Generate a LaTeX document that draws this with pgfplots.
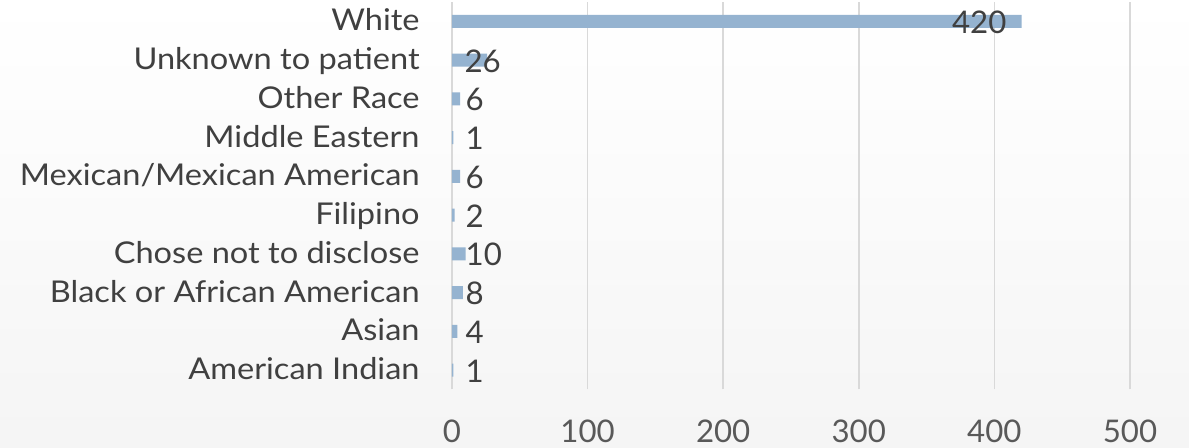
\documentclass[border=0pt]{standalone}
\usepackage{fontspec}
\setmainfont{Lato}
\newfontfamily\catfont{Lato}[FakeStretch=1.085]
\usepackage{pgfplots}
\pgfplotsset{compat=1.18}
\definecolor{barblue}{HTML}{95B3D0}
\definecolor{gridgray}{HTML}{D9D9D9}
\definecolor{labtxt}{HTML}{404040}
\definecolor{ticktxt}{HTML}{595959}
\begin{document}
\begin{tikzpicture}
\shade[top color=white, bottom color=black!4] (-226pt,-28.8pt) rectangle (368.5pt,194.7pt);
\begin{axis}[
  at={(0,0)}, anchor=south west,
  scale only axis, width=339pt, height=193.7pt,
  xmin=0, xmax=500, ymin=-0.5, ymax=9.5,
  xtick={0,100,...,500},
  ytick={0,...,9},
  yticklabels={American Indian, Asian, Black or African American, Chose not to disclose, Filipino, Mexican/Mexican American, Middle Eastern, Other Race, Unknown to patient, White},
  axis line style={draw=none},
  major tick length=0pt,
  xmajorgrids, major grid style={gridgray, line width=0.75pt},
  font=\fontsize{15.6}{18}\selectfont,
  /pgf/number format/assume math mode=true,
  xticklabel style={anchor=base, inner sep=0pt, yshift=-26.3pt, text=ticktxt},
  yticklabel style={anchor=base east, inner sep=0pt, xshift=-16pt, yshift=-4.75pt, text=labtxt, font=\catfont\fontsize{15}{18}\selectfont},
  clip=false,
]
\addplot[xbar, bar width=6.5pt, fill=barblue, draw=none] coordinates {
  (1,0) (4,1) (8,2) (10,3) (2,4) (6,5) (1,6) (6,7) (26,8) (420,9)
};
\addplot[only marks, mark=none, nodes near coords, point meta=explicit symbolic,
  every node near coord/.append style={anchor=base west, inner sep=0pt, yshift=-6pt, text=labtxt, font=\fontsize{15.6}{18}\selectfont}]
  coordinates {
  (9.8,0) [1] (9.8,1) [4] (9.8,2) [8] (9.8,3) [10] (9.8,4) [2] (9.8,5) [6] (9.8,6) [1] (9.8,7) [6] (9.0,8) [26] (368.5,9) [420]
};
\end{axis}
\pgfresetboundingbox
\path[use as bounding box] (-226pt,-28.8pt) rectangle (368.5pt,194.7pt);
\end{tikzpicture}
\end{document}
